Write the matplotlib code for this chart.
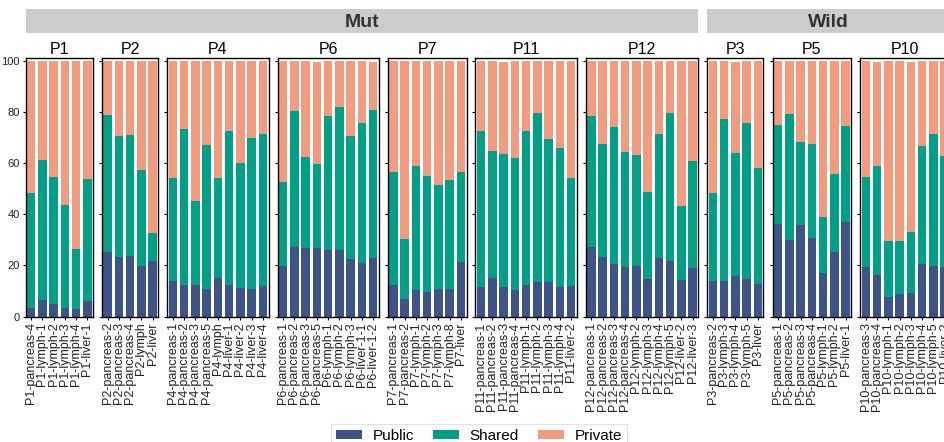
import numpy as np
import matplotlib
matplotlib.use("Agg")
import matplotlib.pyplot as plt
from matplotlib.patches import Patch

plt.rcParams['font.family'] = ['Liberation Sans', 'DejaVu Sans']

# percent of mutations per sample
patients = ["P1", "P2", "P4", "P6", "P7", "P11", "P12", "P3", "P5", "P10"]
groups = ["Mut"] * 7 + ["Wild"] * 3

samples = {
    "P1": ["pancreas-4", "lymph-1", "lymph-2", "lymph-3", "lymph-4", "liver-1"],
    "P2": ["pancreas-2", "pancreas-3", "pancreas-4", "lymph", "liver"],
    "P4": ["pancreas-1", "pancreas-2", "pancreas-3", "pancreas-5", "lymph",
           "liver-1", "liver-2", "liver-3", "liver-4"],
    "P6": ["pancreas-1", "pancreas-2", "pancreas-3", "pancreas-5", "lymph-1",
           "lymph-2", "lymph-3", "liver-1-1", "liver-1-2"],
    "P7": ["pancreas-1", "pancreas-2", "lymph-1", "lymph-2", "lymph-3", "lymph-8", "liver"],
    "P11": ["pancreas-1", "pancreas-2", "pancreas-3", "pancreas-4", "lymph-1",
            "lymph-2", "lymph-3", "lymph-4", "liver-2"],
    "P12": ["pancreas-1", "pancreas-2", "pancreas-3", "pancreas-4", "lymph-2",
            "lymph-3", "lymph-4", "lymph-5", "liver-2", "liver-3"],
    "P3": ["pancreas-2", "lymph-3", "lymph-4", "lymph-5", "liver"],
    "P5": ["pancreas-1", "pancreas-2", "pancreas-3", "pancreas-4", "lymph-1", "lymph-2", "liver-1"],
    "P10": ["pancreas-3", "pancreas-4", "lymph-1", "lymph-2", "lymph-3", "lymph-4", "lymph-5", "liver-2"],
}

public = {
    "P1": [3.5, 6.5, 5.0, 3.5, 3.1, 6.1],
    "P2": [25.3, 23.3, 23.8, 19.8, 21.9],
    "P4": [14.1, 12.4, 12.4, 10.8, 15.2, 12.4, 11.2, 10.8, 12.0],
    "P6": [19.8, 27.2, 26.8, 26.8, 26.0, 26.0, 22.5, 21.0, 22.9],
    "P7": [12.4, 6.9, 10.4, 9.6, 10.8, 10.8, 21.4],
    "P11": [11.6, 15.1, 11.6, 10.4, 12.4, 13.5, 13.5, 11.6, 12.0],
    "P12": [27.2, 23.3, 20.6, 19.4, 19.8, 14.7, 22.9, 21.7, 14.3, 19.0],
    "P3": [13.9, 13.9, 15.8, 14.7, 12.7],
    "P5": [36.1, 29.9, 35.7, 30.6, 17.0, 25.2, 36.9],
    "P10": [19.4, 16.2, 7.7, 8.8, 9.2, 20.5, 19.7, 19.4],
}
shared = {
    "P1": [44.9, 54.7, 49.7, 40.2, 23.5, 47.8],
    "P2": [53.5, 47.3, 47.2, 37.5, 10.8],
    "P4": [40.1, 60.9, 32.8, 56.3, 39.0, 60.1, 48.7, 59.0, 59.2],
    "P6": [32.8, 53.1, 35.6, 32.8, 52.4, 55.9, 48.1, 54.7, 57.8],
    "P7": [44.1, 23.4, 48.5, 45.3, 40.6, 42.6, 35.1],
    "P11": [60.9, 49.6, 51.9, 51.6, 60.1, 66.1, 55.9, 54.3, 42.2],
    "P12": [51.2, 44.1, 53.5, 44.9, 43.4, 34.0, 48.5, 57.9, 28.9, 41.8],
    "P3": [34.3, 63.1, 48.0, 61.1, 45.2],
    "P5": [38.6, 49.1, 32.7, 36.7, 21.8, 30.4, 37.4],
    "P10": [35.0, 42.5, 21.8, 20.7, 23.8, 46.0, 51.5, 43.2],
}
private = {
    "P1": [51.6, 38.8, 45.3, 56.2, 73.4, 46.1],
    "P2": [21.2, 29.4, 29.0, 42.7, 67.3],
    "P4": [45.5, 26.7, 54.8, 32.9, 45.8, 27.5, 40.1, 30.2, 28.8],
    "P6": [47.4, 19.7, 37.6, 39.9, 21.6, 18.1, 29.4, 24.3, 18.9],
    "P7": [43.5, 69.7, 41.1, 45.1, 48.6, 46.6, 43.5],
    "P11": [27.5, 35.0, 36.1, 37.7, 27.2, 20.4, 30.6, 34.1, 45.8],
    "P12": [21.6, 32.3, 25.9, 35.7, 36.8, 51.3, 28.6, 20.1, 56.8, 39.2],
    "P3": [51.8, 23.0, 35.8, 24.2, 42.1],
    "P5": [25.3, 21.0, 31.6, 32.7, 61.2, 44.4, 25.7],
    "P10": [45.6, 40.9, 70.5, 70.5, 66.6, 33.5, 28.8, 37.4],
}

colors = {"Public": "#3C5488", "Shared": "#00A087", "Private": "#F39B7F"}

W, H = 944, 442
fig = plt.figure(figsize=(W / 100, H / 100), dpi=100)

unit = 11.25   # px per bar
gap = 9.0      # px between panels
left0 = 25.5
ax_top, ax_bot = 58.0, 316.7

x = left0
group_span = {}
for i, p in enumerate(patients):
    n = len(samples[p])
    w = n * unit
    ax = fig.add_axes([x / W, (H - ax_bot) / H, w / W, (ax_bot - ax_top) / H])
    pos = np.arange(n)
    pub = np.array(public[p])
    shr = np.array(shared[p])
    prv = np.array(private[p])
    ax.bar(pos, pub, width=0.77, color=colors["Public"], linewidth=0)
    ax.bar(pos, shr, width=0.77, bottom=pub, color=colors["Shared"], linewidth=0)
    ax.bar(pos, prv, width=0.77, bottom=pub + shr, color=colors["Private"], linewidth=0)
    ax.set_xlim(-0.5, n - 0.5)
    ax.set_ylim(0, 101)
    ax.set_xticks(pos)
    ax.set_xticklabels([p + "-" + s for s in samples[p]], rotation=90,
                       fontsize=9, color="#222222")
    ax.set_yticks([0, 20, 40, 60, 80, 100])
    if i == 0:
        ax.tick_params(axis="y", labelsize=8, labelcolor="#222222")
    else:
        ax.set_yticklabels([])
    ax.tick_params(length=2.5, width=0.8, pad=1.5)
    for s in ax.spines.values():
        s.set_linewidth(1.0)
    ax.set_title(p, fontsize=11.5, pad=3)

    g = groups[i]
    if g not in group_span:
        group_span[g] = [x, x + w]
    else:
        group_span[g][1] = x + w
    x += w + gap

# group strips on top
for g, (a, b) in group_span.items():
    sax = fig.add_axes([a / W, (H - 33) / H, (b - a) / W, 24 / H])
    sax.set_facecolor("#CCCCCC")
    sax.set_xticks([])
    sax.set_yticks([])
    for s in sax.spines.values():
        s.set_visible(False)
    sax.text(0.5, 0.45, g, transform=sax.transAxes, ha="center", va="center",
             fontsize=14, fontweight="bold", color="#333333")

handles = [Patch(facecolor=colors[k], label=k) for k in ["Public", "Shared", "Private"]]
leg = fig.legend(handles=handles, loc="upper center", bbox_to_anchor=(479 / W, (H - 424) / H),
                 ncol=3, fontsize=11, frameon=True, handlelength=1.7, handleheight=0.5,
                 handletextpad=0.7, columnspacing=1.25, borderpad=0.3, borderaxespad=0,
                 fancybox=False)
leg.get_frame().set_edgecolor("#DDDDDD")
leg.get_frame().set_linewidth(0.8)

fig.savefig("out.png", dpi=100)
